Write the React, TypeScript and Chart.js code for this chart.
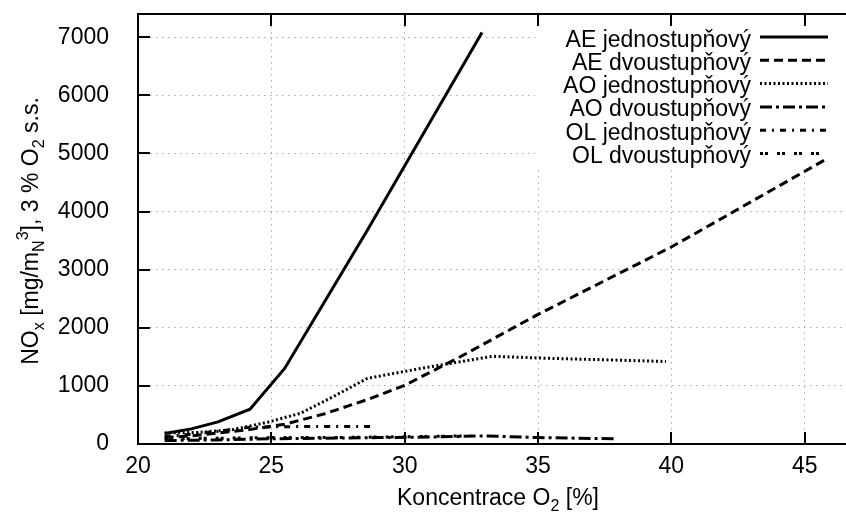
import React, { useEffect, useRef } from "react";
import { Chart, registerables } from "chart.js";

Chart.register(...registerables);

// ---- data ----
const seriesNames = [
  "AE jednostupňový",
  "AE dvoustupňový",
  "AO jednostupňový",
  "AO dvoustupňový",
  "OL jednostupňový",
  "OL dvoustupňový",
];

const aeJednoX = [21, 22, 23, 24.2, 25.5, 28.6, 32.9];
const aeJednoY = [180, 260, 380, 600, 1300, 3680, 7080];

const aeDvouX = [21, 22, 23, 24.2, 25.5, 27, 28.7, 30, 32, 35, 40, 45.8];
const aeDvouY = [110, 140, 190, 250, 340, 520, 780, 1010, 1480, 2230, 3390, 4900];

const aoJednoX = [21, 22.3, 23.6, 24.9, 26.1, 27.3, 28.6, 30.6, 33.3, 35, 39.8];
const aoJednoY = [190, 200, 250, 380, 530, 810, 1130, 1300, 1510, 1480, 1420];

const aoDvouX = [21, 23, 25, 27, 29, 31, 33, 35, 37.9];
const aoDvouY = [60, 70, 90, 100, 110, 120, 140, 110, 90];

const olJednoX = [21, 22, 23, 24.2, 26, 28.7];
const olJednoY = [130, 170, 220, 290, 300, 300];

const olDvouX = [21, 23, 25, 27, 29, 31, 32.5];
const olDvouY = [90, 100, 110, 110, 120, 130, 140];

const xTicks = [20, 25, 30, 35, 40, 45];
const yTicks = [0, 1000, 2000, 3000, 4000, 5000, 6000, 7000];

const FONT = '"Liberation Sans", Arial, sans-serif';
const FS = 23;

const zip = (xs: number[], ys: number[]) => xs.map((x, i) => ({ x, y: ys[i] }));

type Part = [string, number];

function drawRich(ctx: CanvasRenderingContext2D, parts: Part[], cx: number, cy: number, size: number) {
  const small = size * 0.7;
  const widths = parts.map(([t, m]) => {
    ctx.font = `${m ? small : size}px ${FONT}`;
    return ctx.measureText(t).width;
  });
  const total = widths.reduce((a, b) => a + b, 0);
  let x = cx - total / 2;
  const base = cy + size * 0.35;
  ctx.textAlign = "left";
  ctx.textBaseline = "alphabetic";
  ctx.fillStyle = "#000";
  parts.forEach(([t, m], i) => {
    ctx.font = `${m ? small : size}px ${FONT}`;
    const dy = m === 1 ? size * 0.28 : m === 2 ? -size * 0.42 : 0;
    ctx.fillText(t, x, base + dy);
    x += widths[i];
  });
}

const decorPlugin = {
  id: "decor",
  beforeDatasetsDraw(chart: any) {
    const { ctx, chartArea } = chart;
    ctx.save();
    ctx.fillStyle = "#fff";
    ctx.fillRect(535, chartArea.top, chartArea.right - 535, 168 - chartArea.top);
    ctx.restore();
  },
  afterDatasetsDraw(chart: any) {
    const { ctx, chartArea } = chart;
    ctx.save();
    // legend
    chart.data.datasets.forEach((ds: any, i: number) => {
      const rowY = 37 + i * 23.3;
      ctx.font = `${FS}px ${FONT}`;
      ctx.fillStyle = "#000";
      ctx.textAlign = "right";
      ctx.textBaseline = "alphabetic";
      ctx.fillText(ds.label, 751, rowY + 9.5);
      ctx.beginPath();
      ctx.setLineDash(ds.borderDash || []);
      ctx.lineWidth = ds.borderWidth;
      ctx.strokeStyle = "#000";
      ctx.lineCap = "butt";
      ctx.moveTo(760, rowY);
      ctx.lineTo(828, rowY);
      ctx.stroke();
    });
    ctx.setLineDash([]);
    // x title
    drawRich(ctx, [["Koncentrace O", 0], ["2", 1], [" [%]", 0]], (chartArea.left + chartArea.right) / 2, 497, FS);
    // y title
    ctx.save();
    ctx.translate(30, (chartArea.top + chartArea.bottom) / 2 + 2);
    ctx.rotate(-Math.PI / 2);
    drawRich(
      ctx,
      [["NO", 0], ["x", 1], [" [mg/m", 0], ["N", 1], ["3", 2], ["], 3 % O", 0], ["2", 1], [" s.s.", 0]],
      0,
      0,
      FS
    );
    ctx.restore();
    ctx.restore();
  },
  afterDraw(chart: any) {
    const ctx = chart.ctx;
    const ca = chart.chartArea;
    const xs = chart.scales.x;
    const ys = chart.scales.y;
    const L = ca.left;
    const R = ca.right;
    const T = ca.top;
    const B = ca.bottom;
    ctx.save();
    ctx.setLineDash([]);
    ctx.fillStyle = "#000000";
    // frame
    ctx.fillRect(L - 1, T - 1, R - L + 2, 2);
    ctx.fillRect(L - 1, B - 1, R - L + 2, 2);
    ctx.fillRect(L - 1, T - 1, 2, B - T + 2);
    ctx.fillRect(R - 1, T - 1, 2, B - T + 2);
    // inner ticks
    const tl = 12;
    const xr = xs.max - xs.min;
    const yr = ys.max - ys.min;
    xTicks.forEach((v) => {
      const px = Math.round(L + ((v - xs.min) / xr) * (R - L));
      ctx.fillRect(px - 1, B - tl, 2, tl);
      ctx.fillRect(px - 1, T, 2, tl);
    });
    yTicks.forEach((v) => {
      const py = Math.round(B - ((v - ys.min) / yr) * (B - T));
      ctx.fillRect(L, py - 1, tl, 2);
      ctx.fillRect(R - tl, py - 1, tl, 2);
    });
    ctx.restore();
  },
};

export default function App() {
  const ref = useRef<HTMLCanvasElement | null>(null);
  useEffect(() => {
    if (!ref.current) return;
    const mk = (i: number, xs: number[], ys: number[], dash: number[]) => ({
      label: seriesNames[i],
      data: zip(xs, ys),
      borderColor: "#000",
      borderWidth: 3,
      borderDash: dash,
      borderCapStyle: "butt",
      pointRadius: 0,
      fill: false,
      tension: 0,
    });
    const chart = new Chart(ref.current, {
      type: "line",
      data: {
        datasets: [
          mk(0, aeJednoX, aeJednoY, []),
          mk(1, aeDvouX, aeDvouY, [9, 5]),
          mk(2, aoJednoX, aoJednoY, [2, 2.5]),
          mk(3, aoDvouX, aoDvouY, [12, 4, 3, 4]),
          mk(4, olJednoX, olJednoY, [6, 6, 2, 6]),
          mk(5, olDvouX, olDvouY, [3, 2, 3, 9]),
        ] as any,
      },
      options: {
        animation: false,
        responsive: false,
        devicePixelRatio: 1,
        layout: { padding: { top: 14, right: 12, left: 0, bottom: 0 } },
        plugins: { legend: { display: false }, tooltip: { enabled: false } },
        scales: {
          x: {
            type: "linear",
            min: 20,
            max: 47,
            afterFit: (s: any) => {
              s.height = 71;
              s.paddingLeft = 0;
              s.paddingRight = 0;
            },
            afterBuildTicks: (s: any) => {
              s.ticks = xTicks.map((v) => ({ value: v }));
            },
            ticks: {
              color: "#000",
              padding: 9,
              maxRotation: 0,
              autoSkip: false,
              callback: (v: any) => String(v),
              font: { family: FONT, size: FS },
            },
            grid: { color: "#aaaaaa", lineWidth: 1, drawTicks: false },
            border: { display: false, dash: [1.5, 4.5] },
          },
          y: {
            type: "linear",
            min: 0,
            max: 7400,
            afterFit: (s: any) => {
              s.width = 138;
              s.paddingTop = 0;
              s.paddingBottom = 0;
            },
            afterBuildTicks: (s: any) => {
              s.ticks = yTicks.map((v) => ({ value: v }));
            },
            ticks: {
              color: "#000",
              padding: 29,
              autoSkip: false,
              callback: (v: any) => String(v),
              font: { family: FONT, size: FS },
            },
            grid: { color: "#aaaaaa", lineWidth: 1, drawTicks: false },
            border: { display: false, dash: [1.5, 4.5] },
          },
        },
      } as any,
      plugins: [decorPlugin],
    });
    return () => chart.destroy();
  }, []);
  return (
    <div
      style={{
        position: "fixed",
        left: 0,
        top: 0,
        width: 846,
        height: 515,
        overflow: "hidden",
        background: "#fff",
      }}
    >
      <canvas ref={ref} width={870} height={515} style={{ display: "block", width: 870, height: 515 }} />
    </div>
  );
}
